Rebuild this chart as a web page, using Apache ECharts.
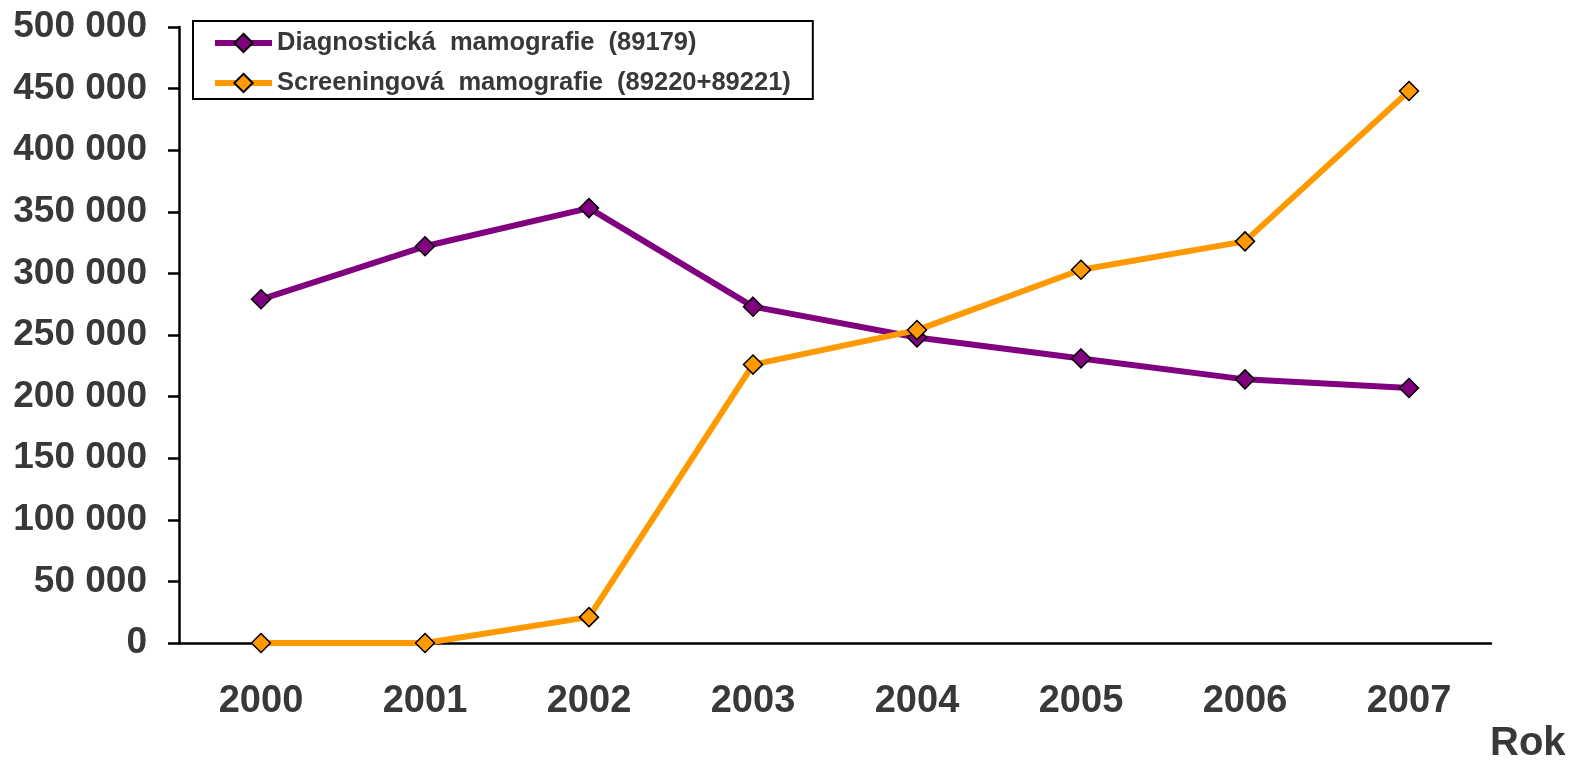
<!DOCTYPE html>
<html lang="cs">
<head>
    <meta charset="UTF-8">
    <title>Mamografie</title>
    <style type="text/css">
        body {
            margin: 0;
            background: #fff;
        }

        #chart {
            width: 1571px;
            height: 760px;
        }
    </style>
    <script type="text/javascript" src="https://cdn.jsdelivr.net/npm/echarts@6/dist/echarts.min.js"></script>
</head>
<body>
    <div id="chart"></div>
</body>
</html>
<script type="text/javascript">
    var years = ['2000', '2001', '2002', '2003', '2004', '2005', '2006', '2007'];
    var diagnostic = [279000, 322000, 353000, 273000, 248000, 231000, 214000, 207000];
    var screening = [0, 0, 21000, 226000, 254000, 303000, 326000, 448000];
    var seriesNames = ['Diagnostická  mamografie  (89179)', 'Screeningová  mamografie  (89220+89221)'];

    var textColor = '#383838';

    function fmt(v){
        return String(v).replace(/\B(?=(\d{3})+(?!\d))/g, ' ');
    }

    var chart = echarts.init(document.getElementById('chart'));
    var option = {
        animation: false,
        grid: {
            left: 179,
            right: 80,
            top: 27,
            bottom: 117
        },
        legend: {
            orient: 'vertical',
            left: 193,
            top: 21,
            padding: [9, 22, 3, 19],
            itemGap: 14,
            itemWidth: 57,
            itemHeight: 23,
            borderColor: '#000',
            borderWidth: 2,
            lineStyle: { width: 6 },
            textStyle: {
                fontFamily: 'Liberation Sans, Arial',
                fontWeight: 'bold',
                fontSize: 25.5,
                color: textColor
            },
            data: seriesNames
        },
        xAxis: {
            type: 'category',
            data: years,
            boundaryGap: true,
            axisLine: {
                lineStyle: { color: '#000', width: 2.5 }
            },
            axisTick: {
                length: 10,
                lineStyle: { color: '#000', width: 2.5 }
            },
            axisLabel: {
                margin: 40,
                fontFamily: 'Liberation Sans, Arial',
                fontWeight: 'bold',
                fontSize: 38,
                color: textColor
            },
            splitLine: { show: false }
        },
        yAxis: {
            type: 'value',
            min: 0,
            max: 500000,
            interval: 50000,
            axisLine: {
                show: true,
                lineStyle: { color: '#000', width: 2.5 }
            },
            axisTick: {
                show: true,
                length: 11,
                lineStyle: { color: '#000', width: 2.5 }
            },
            axisLabel: {
                margin: 32,
                fontFamily: 'Liberation Sans, Arial',
                fontWeight: 'bold',
                fontSize: 37,
                color: textColor,
                formatter: fmt
            },
            splitLine: { show: false }
        },
        graphic: [{
            type: 'text',
            left: 1490,
            top: 724,
            style: {
                text: 'Rok',
                fontFamily: 'Liberation Sans, Arial',
                fontWeight: 'bold',
                fontSize: 40,
                fill: textColor
            }
        }],
        series: [{
            name: seriesNames[0],
            type: 'line',
            data: diagnostic,
            symbol: 'diamond',
            symbolSize: 19,
            lineStyle: { color: '#800080', width: 6 },
            itemStyle: { color: '#800080', borderColor: '#000', borderWidth: 1.5 },
            z: 3
        }, {
            name: seriesNames[1],
            type: 'line',
            data: screening,
            symbol: 'diamond',
            symbolSize: 19,
            lineStyle: { color: '#ff9900', width: 6 },
            itemStyle: { color: '#ff9900', borderColor: '#000', borderWidth: 1.5 },
            z: 4
        }]
    };
    chart.setOption(option);
</script>
